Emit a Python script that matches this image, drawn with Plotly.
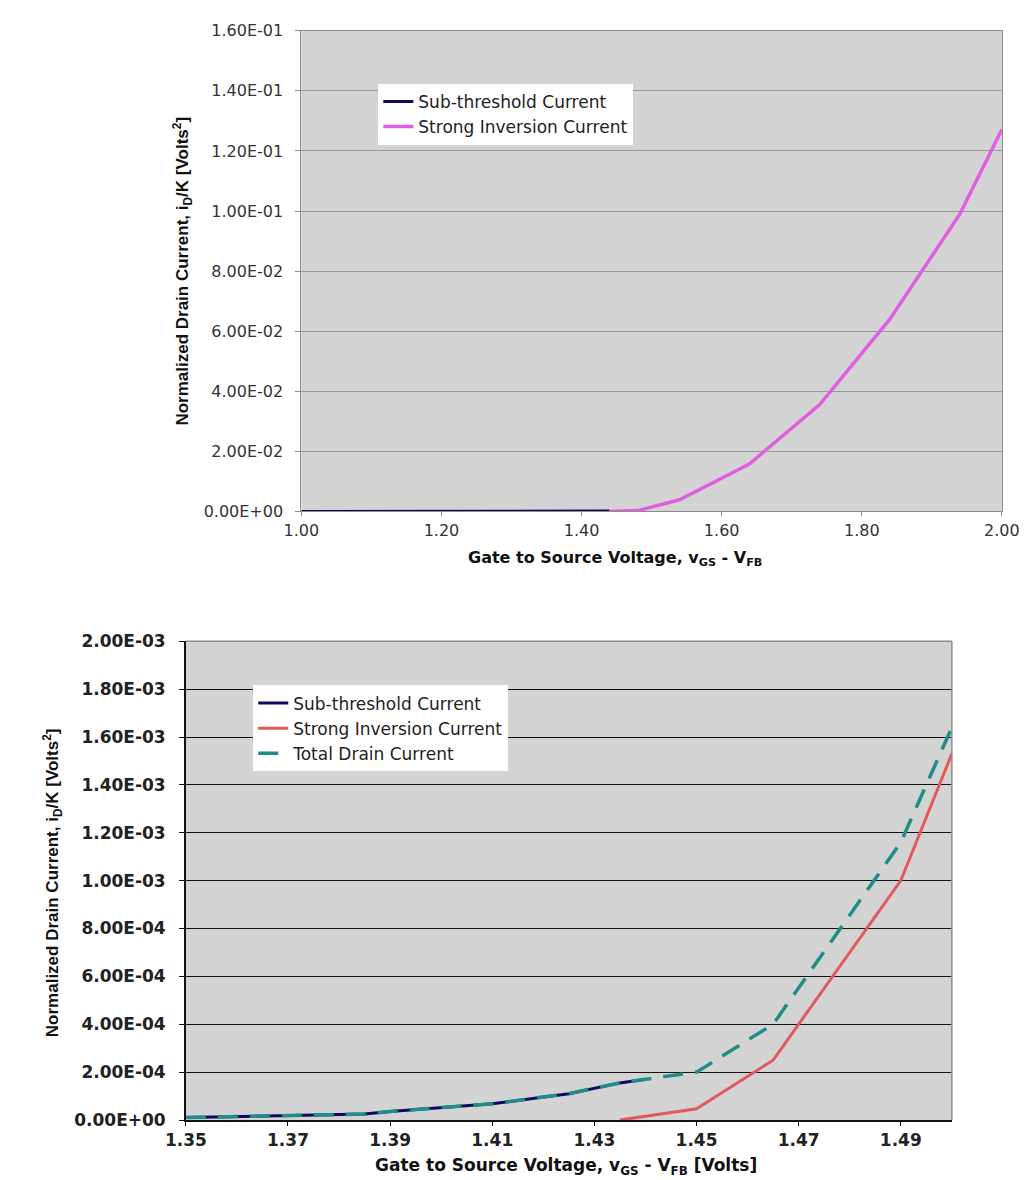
import plotly.graph_objects as go

# ---------------- data: top chart (1.00 - 2.00 V) ----------------
top_sub_x = [1.00, 1.10, 1.20, 1.30, 1.35, 1.40, 1.44]
top_sub_y = [0.0, 0.0, 0.0, 0.0, 0.00001, 0.000055, 0.00017]
top_strong_x = [1.44, 1.48, 1.54, 1.64, 1.74, 1.84, 1.94, 2.00]
top_strong_y = [0.0, 0.0003, 0.0039, 0.0159, 0.0356, 0.0640, 0.0990, 0.1272]

top_xticks = [1.00, 1.20, 1.40, 1.60, 1.80, 2.00]
top_yticks = [0.0, 0.02, 0.04, 0.06, 0.08, 0.10, 0.12, 0.14, 0.16]

# ---------------- data: bottom chart (1.35 - 1.50 V) ----------------
bot_sub_x = [1.35, 1.36, 1.37, 1.385, 1.39, 1.41, 1.425, 1.435, 1.44]
bot_sub_y = [0.000010, 0.000014, 0.000018, 0.000025, 0.000036, 0.000068, 0.000110, 0.000155, 0.000170]
bot_strong_x = [1.435, 1.45, 1.465, 1.49, 1.50]
bot_strong_y = [0.0, 0.000047, 0.00025, 0.00100, 0.00153]
bot_total_x = [1.35, 1.36, 1.37, 1.385, 1.39, 1.41, 1.425, 1.435, 1.45, 1.465, 1.49, 1.50]
bot_total_y = [0.000010, 0.000014, 0.000018, 0.000025, 0.000036, 0.000068, 0.000110, 0.000155,
               0.000200, 0.000400, 0.001160, 0.001640]

bot_xticks = [1.35, 1.37, 1.39, 1.41, 1.43, 1.45, 1.47, 1.49]
bot_yticks = [0.0, 0.0002, 0.0004, 0.0006, 0.0008, 0.0010, 0.0012, 0.0014, 0.0016, 0.0018, 0.0020]

NAVY = "#0b0b5e"
MAGENTA = "#e05ee0"
RED = "#e05a5a"
TEAL = "#1f8c86"

W, H = 1035, 1180


def px_x(p):
    return p / W


def px_y(p):
    return 1 - p / H


def sci(v):
    return f"{v:.2E}"


fig = go.Figure()

# top chart
fig.add_trace(go.Scatter(x=top_sub_x, y=top_sub_y, mode="lines", name="Sub-threshold Current",
                         line=dict(color=NAVY, width=3), xaxis="x", yaxis="y", legend="legend"))
fig.add_trace(go.Scatter(x=top_strong_x, y=top_strong_y, mode="lines", name="Strong Inversion Current",
                         line=dict(color=MAGENTA, width=3.5), xaxis="x", yaxis="y", legend="legend"))

# bottom chart
fig.add_trace(go.Scatter(x=bot_sub_x, y=bot_sub_y, mode="lines", name="Sub-threshold Current",
                         line=dict(color=NAVY, width=3), xaxis="x2", yaxis="y2", legend="legend2"))
fig.add_trace(go.Scatter(x=bot_strong_x, y=bot_strong_y, mode="lines", name="Strong Inversion Current",
                         line=dict(color=RED, width=3), xaxis="x2", yaxis="y2", legend="legend2"))
fig.add_trace(go.Scatter(x=bot_total_x, y=bot_total_y, mode="lines", name="Total Drain Current",
                         line=dict(color=TEAL, width=3.5, dash="20px,12px"), xaxis="x2", yaxis="y2",
                         legend="legend2"))

tick_font_top = dict(family="DejaVu Sans", size=16, color="#333333")
tick_font_bot = dict(family="DejaVu Sans", size=17, color="#222222", weight="bold")

fig.update_layout(
    width=W, height=H,
    margin=dict(l=0, r=0, t=0, b=0),
    paper_bgcolor="white",
    plot_bgcolor="#d3d3d3",
    xaxis=dict(domain=[px_x(283), px_x(1011)], anchor="y", range=[1.0, 2.0],
               tickvals=top_xticks, tickformat=".2f", showgrid=False, zeroline=False,
               ticks="outside", ticklen=4, tickcolor="#8c8c8c", showline=True, mirror=True,
               linecolor="#8c8c8c", linewidth=1, tickfont=tick_font_top, ticklabelstandoff=0),
    yaxis=dict(domain=[px_y(502), px_y(13)], anchor="x", range=[0, 0.16],
               tickvals=top_yticks, ticktext=[sci(v) for v in top_yticks],
               showgrid=True, gridcolor="#999999", gridwidth=1, zeroline=False,
               ticks="outside", ticklen=5, tickcolor="#8c8c8c", showline=True, mirror=True,
               linecolor="#8c8c8c", linewidth=1, tickfont=tick_font_top, ticklabelstandoff=9),
    xaxis2=dict(domain=[px_x(163), px_x(959)], anchor="y2", range=[1.35, 1.50],
                tickvals=bot_xticks, tickformat=".2f", showgrid=False, zeroline=False,
                ticks="outside", ticklen=4, tickcolor="#111111", showline=True, mirror=False,
                linecolor="#111111", linewidth=1.5, tickfont=tick_font_bot, ticklabelstandoff=0),
    yaxis2=dict(domain=[px_y(1121), px_y(634)], anchor="x2", range=[0, 0.002],
                tickvals=bot_yticks, ticktext=[sci(v) for v in bot_yticks],
                showgrid=True, gridcolor="#111111", gridwidth=1, zeroline=False,
                ticks="outside", ticklen=5, tickcolor="#111111", showline=True, mirror=False,
                linecolor="#111111", linewidth=1.5, tickfont=tick_font_bot, ticklabelstandoff=10),
    legend=dict(x=px_x(363), y=px_y(67), xanchor="left", yanchor="top", bgcolor="white",
                font=dict(family="DejaVu Sans", size=17, color="#222222"), tracegroupgap=0,
                borderwidth=0),
    legend2=dict(x=px_x(233), y=px_y(679), xanchor="left", yanchor="top", bgcolor="white",
                 font=dict(family="DejaVu Sans", size=17, color="#222222"), tracegroupgap=0,
                 borderwidth=0),
    showlegend=True,
)

# gray top/right border of the bottom plot
fig.add_shape(type="line", xref="x2 domain", yref="y2 domain", x0=0, x1=1, y0=1, y1=1,
              line=dict(color="#8c8c8c", width=1.5), layer="above")
fig.add_shape(type="line", xref="x2 domain", yref="y2 domain", x0=1, x1=1, y0=0, y1=1,
              line=dict(color="#8c8c8c", width=1.5), layer="above")

fig.add_annotation(text="Normalized Drain Current, i<sub>D</sub>/K [Volts<sup>2</sup>]",
                   xref="paper", yref="paper", x=px_x(160), y=px_y(257), textangle=-90,
                   showarrow=False, xanchor="center", yanchor="middle",
                   font=dict(family="Liberation Sans", size=17, color="#111111", weight="bold"))
fig.add_annotation(text="Gate to Source Voltage, v<sub>GS</sub> - V<sub>FB</sub>",
                   xref="paper", yref="paper", x=px_x(609), y=px_y(550),
                   showarrow=False, xanchor="center", yanchor="middle",
                   font=dict(family="DejaVu Sans", size=16, color="#111111", weight="bold"))
fig.add_annotation(text="Normalized Drain Current, i<sub>D</sub>/K [Volts<sup>2</sup>]",
                   xref="paper", yref="paper", x=px_x(24), y=px_y(880), textangle=-90,
                   showarrow=False, xanchor="center", yanchor="middle",
                   font=dict(family="Liberation Sans", size=17, color="#111111", weight="bold"))
fig.add_annotation(text="Gate to Source Voltage, v<sub>GS</sub> - V<sub>FB</sub> [Volts]",
                   xref="paper", yref="paper", x=px_x(558), y=px_y(1168),
                   showarrow=False, xanchor="center", yanchor="middle",
                   font=dict(family="DejaVu Sans", size=17, color="#111111", weight="bold"))

fig.write_html("out.html")
